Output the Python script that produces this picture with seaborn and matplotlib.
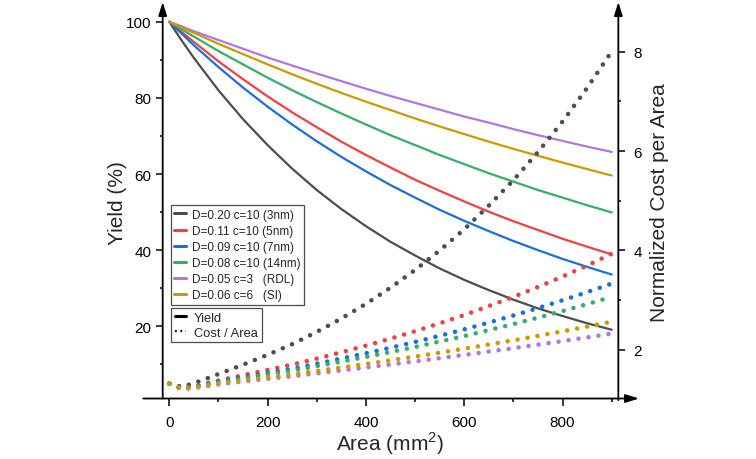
import matplotlib
matplotlib.use("Agg")
import matplotlib.pyplot as plt
from matplotlib.lines import Line2D
import pandas as pd
import seaborn as sns

# ========== DATA ==========
AREA = [0, 25, 50, 100, 150, 200, 250, 300, 350, 400, 450,
        500, 550, 600, 650, 700, 750, 800, 850, 900]

SERIES = ["3nm", "5nm", "7nm", "14nm", "RDL", "SI"]
LABELS = ["D=0.20 c=10 (3nm)", "D=0.11 c=10 (5nm)", "D=0.09 c=10 (7nm)",
          "D=0.08 c=10 (14nm)", "D=0.05 c=3   (RDL)", "D=0.06 c=6   (SI)"]

# yield in %
YIELD_3NM = [100, 95.1, 90.5, 82.0, 74.4, 67.6, 61.4, 55.8, 50.8, 46.3, 42.2,
             38.6, 35.2, 32.2, 29.5, 27.0, 24.7, 22.7, 20.8, 19.1]
YIELD_5NM = [100, 97.3, 94.7, 89.6, 84.9, 80.4, 76.2, 72.3, 68.5, 65.0, 61.7,
             58.5, 55.6, 52.8, 50.1, 47.6, 45.3, 43.0, 40.9, 38.9]
YIELD_7NM = [100, 96.9, 93.8, 88.1, 82.7, 77.7, 73.0, 68.6, 64.5, 60.7, 57.1,
             53.8, 50.6, 47.7, 45.0, 42.4, 40.0, 37.7, 35.6, 33.6]
YIELD_14NM = [100, 98.0, 96.1, 92.3, 88.8, 85.3, 82.0, 78.9, 75.9, 73.0, 70.2,
              67.6, 65.0, 62.6, 60.2, 58.0, 55.8, 53.8, 51.8, 49.9]
YIELD_RDL = [100, 98.8, 97.5, 95.2, 92.9, 90.6, 88.5, 86.4, 84.4, 82.4, 80.5,
             78.7, 76.9, 75.1, 73.5, 71.8, 70.2, 68.7, 67.2, 65.8]
YIELD_SI = [100, 98.5, 97.1, 94.2, 91.5, 88.8, 86.2, 83.7, 81.3, 79.0, 76.8,
            74.6, 72.5, 70.5, 68.5, 66.6, 64.8, 63.0, 61.3, 59.6]

# normalized cost per area
COST_3NM = [1.32, 1.256, 1.326, 1.512, 1.700, 1.899, 2.114, 2.360, 2.630, 2.925, 3.250,
            3.606, 3.998, 4.425, 4.902, 5.413, 5.979, 6.595, 7.269, 8.006]
COST_5NM = [1.32, 1.228, 1.268, 1.383, 1.490, 1.595, 1.703, 1.823, 1.951, 2.084, 2.226,
            2.374, 2.533, 2.700, 2.881, 3.065, 3.266, 3.475, 3.696, 3.933]
COST_7NM = [1.32, 1.222, 1.255, 1.356, 1.447, 1.534, 1.621, 1.720, 1.823, 1.930, 2.042,
            2.159, 2.282, 2.411, 2.549, 2.690, 2.840, 2.997, 3.160, 3.334]
COST_14NM = [1.32, 1.219, 1.249, 1.343, 1.425, 1.504, 1.582, 1.671, 1.762, 1.857, 1.956,
             2.057, 2.166, 2.277, 2.397, 2.518, 2.647, 2.780, 2.919, 3.067]
COST_RDL = [1.32, 1.210, 1.230, 1.303, 1.362, 1.416, 1.467, 1.526, 1.585, 1.644, 1.706,
            1.767, 1.832, 1.897, 1.966, 2.033, 2.104, 2.176, 2.250, 2.327]
COST_SI = [1.32, 1.213, 1.236, 1.316, 1.383, 1.445, 1.505, 1.574, 1.644, 1.715, 1.788,
           1.863, 1.942, 2.022, 2.107, 2.191, 2.281, 2.372, 2.467, 2.566]

COLORS = ["#4d4d4d", "#F14040", "#1A6FDF", "#37AD6B", "#B177DE", "#CC9900"]

yields = [YIELD_3NM, YIELD_5NM, YIELD_7NM, YIELD_14NM, YIELD_RDL, YIELD_SI]
costs = [COST_3NM, COST_5NM, COST_7NM, COST_14NM, COST_RDL, COST_SI]

rows = []
for name, y, c in zip(SERIES, yields, costs):
    for a, yv, cv in zip(AREA, y, c):
        rows.append({"area": a, "series": name, "yield": yv, "cost": cv})
df = pd.DataFrame(rows)

# ========== STYLE ==========
sns.set_theme(style="ticks")
plt.rcParams["font.family"] = ["Liberation Sans", "DejaVu Sans"]
plt.rcParams["mathtext.fontset"] = "custom"
plt.rcParams["mathtext.rm"] = "Liberation Sans"
plt.rcParams["axes.linewidth"] = 1.3
for ax_name in ("xtick", "ytick"):
    plt.rcParams[f"{ax_name}.color"] = "black"
    plt.rcParams[f"{ax_name}.labelcolor"] = "black"
    plt.rcParams[f"{ax_name}.major.width"] = 1.1
    plt.rcParams[f"{ax_name}.minor.width"] = 1.1
    plt.rcParams[f"{ax_name}.major.size"] = 4.8
    plt.rcParams[f"{ax_name}.minor.size"] = 2.5
    plt.rcParams[f"{ax_name}.labelsize"] = 11

fig = plt.figure(figsize=(7.56, 4.6), dpi=100)
ax1 = fig.add_axes([0.2152, 0.1315, 0.6027, 0.8555])
ax2 = ax1.twinx()

DOT = (0, (0.001, 2.2))

for name, col in zip(SERIES, COLORS):
    sub = df[df["series"] == name]
    sns.lineplot(data=sub, x="area", y="yield", color=col, lw=1.6,
                 errorbar=None, legend=False, ax=ax1)
    sns.lineplot(data=sub, x="area", y="cost", color=col, lw=3.3,
                 linestyle=DOT, dash_capstyle="round",
                 errorbar=None, legend=False, ax=ax2)

ax1.set_xlim(-13.4, 913.5)
ax1.set_ylim(1.03, 104.4)
ax2.set_ylim(1.02, 8.94)

ax1.set_xticks([0, 200, 400, 600, 800])
ax1.set_xticks([100, 300, 500, 700, 900], minor=True)
ax1.set_yticks([20, 40, 60, 80, 100])
ax1.set_yticks([10, 30, 50, 70, 90], minor=True)
ax2.set_yticks([2, 4, 6, 8])
ax2.set_yticks([3, 5, 7], minor=True)
ax1.tick_params(which="both", direction="out", top=False, right=False)
ax1.tick_params(axis="x", which="major", pad=7)
ax2.tick_params(which="both", direction="out", left=False, right=True)
ax2.tick_params(axis="y", which="major", pad=6)

ax1.set_xlabel("Area (mm$^\\mathregular{2}$)", fontsize=15, labelpad=0.5)
ax1.set_ylabel("Yield (%)", fontsize=15, labelpad=-1)
ax2.set_ylabel("Normalized Cost per Area", fontsize=15, labelpad=6)

for ax in (ax1, ax2):
    for s in ax.spines.values():
        s.set_visible(False)

# Origin-style axis lines with arrow heads
arrow = dict(arrowstyle="-|>,head_length=0.8,head_width=0.25", color="black",
             lw=1.3, shrinkA=0, shrinkB=0, mutation_scale=10)
ax2.annotate("", xy=(1.0454, 0), xytext=(-0.0426, 0), xycoords="axes fraction",
             arrowprops=arrow, annotation_clip=False)
ax2.annotate("", xy=(0, 1.0076), xytext=(0, 0), xycoords="axes fraction",
             arrowprops=arrow, annotation_clip=False)
ax2.annotate("", xy=(1, 1.0076), xytext=(1, -0.004), xycoords="axes fraction",
             arrowprops=arrow, annotation_clip=False)

# ========== LEGENDS ==========
h1 = [Line2D([], [], color=c, lw=2.2) for c in COLORS]
leg1 = ax2.legend(h1, LABELS, loc="upper left", bbox_to_anchor=(0.0176, 0.4917),
                  borderaxespad=0, fancybox=False, framealpha=1, edgecolor="0.3",
                  fontsize=8.5, handlelength=1.0, handletextpad=0.5,
                  labelspacing=0.35, borderpad=0.3)
leg1.get_frame().set_linewidth(0.9)
ax2.add_artist(leg1)

h2 = [Line2D([], [], color="black", lw=2.2),
      Line2D([], [], color="black", lw=1.6, linestyle=(0, (0.8, 1.6)))]
leg2 = ax2.legend(h2, ["Yield", "Cost / Area"], loc="upper left",
                  bbox_to_anchor=(0.0176, 0.23), borderaxespad=0, fancybox=False,
                  framealpha=1, edgecolor="0.3", fontsize=9.3, handlelength=0.9,
                  handletextpad=0.6, labelspacing=0.2, borderpad=0.3)
leg2.get_frame().set_linewidth(0.9)

fig.savefig("out.png", dpi=100)
